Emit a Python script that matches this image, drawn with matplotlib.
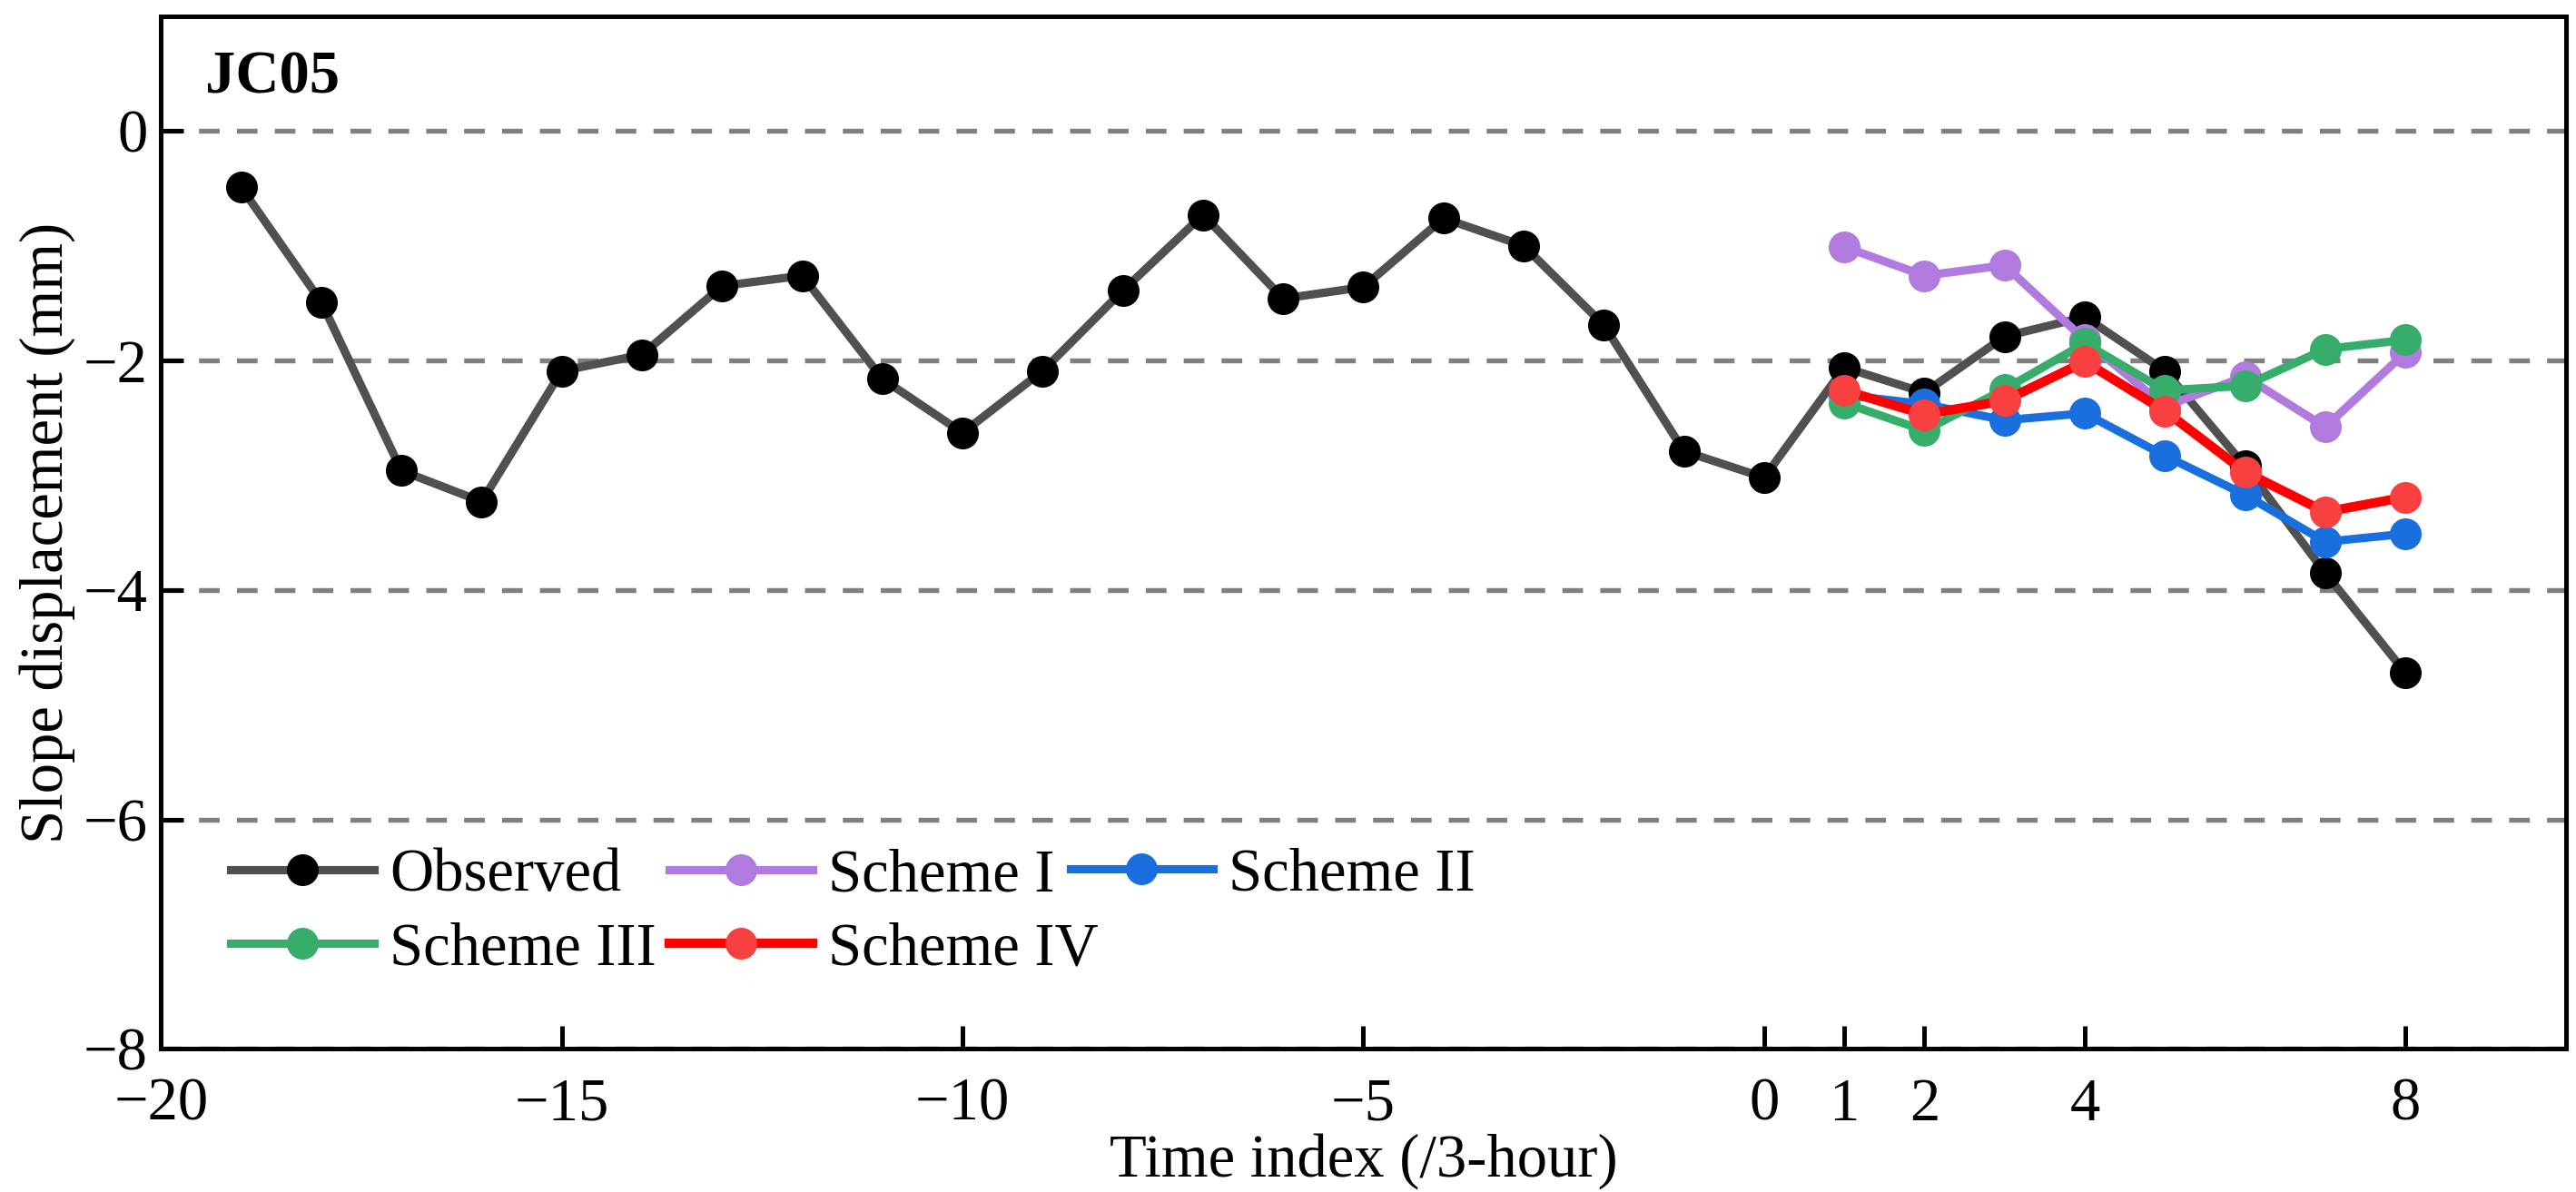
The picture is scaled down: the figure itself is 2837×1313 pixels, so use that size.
import matplotlib
matplotlib.use("Agg")
import matplotlib.pyplot as plt

plt.rcParams['font.family'] = ['Liberation Serif', 'DejaVu Serif']
plt.rcParams['mathtext.fontset'] = 'stix'

# observed series, time index -19 .. 8
obs_x = list(range(-19, 9))
obs_y = [-0.49, -1.49, -2.96, -3.23, -2.09, -1.95, -1.35, -1.26, -2.16,
         -2.63, -2.09, -1.39, -0.73, -1.46, -1.36, -0.76, -1.00, -1.69,
         -2.79, -3.02, -2.06, -2.28, -1.79, -1.62, -2.09, -2.92, -3.85, -4.72]

# forecasts, time index 1 .. 8
fc_x = [1, 2, 3, 4, 5, 6, 7, 8]
scheme1 = [-1.01, -1.26, -1.17, -1.82, -2.40, -2.14, -2.58, -1.93]
scheme2 = [-2.30, -2.38, -2.52, -2.46, -2.83, -3.17, -3.58, -3.51]
scheme3 = [-2.37, -2.61, -2.25, -1.85, -2.26, -2.22, -1.90, -1.82]
scheme4 = [-2.26, -2.47, -2.35, -2.01, -2.44, -2.97, -3.32, -3.19]

xticks = [-20, -15, -10, -5, 0, 1, 2, 4, 8]
yticks = [0, -2, -4, -6, -8]

fig = plt.figure(figsize=(2837 / 300, 1313 / 300), dpi=300)
ax = fig.add_axes([0.0625, 0.12, 0.9335, 0.8663])

ms = 7.4
l0, = ax.plot(obs_x, obs_y, color='#505050', lw=2.2, marker='o', ms=ms,
              mfc='black', mec='black', label='Observed', zorder=3)
l1, = ax.plot(fc_x, scheme1, color='#b07ade', lw=2.2, marker='o', ms=ms,
              label='Scheme I', zorder=4)
l2, = ax.plot(fc_x, scheme2, color='#1a6fdf', lw=2.2, marker='o', ms=ms,
              label='Scheme II', zorder=5)
l3, = ax.plot(fc_x, scheme3, color='#37ad6b', lw=2.2, marker='o', ms=ms,
              label='Scheme III', zorder=6)
l4, = ax.plot(fc_x, scheme4, color='#ff0000', lw=2.5, marker='o', ms=ms,
              mfc='#f94040', mec='#f94040', label='Scheme IV', zorder=7)

ax.set_xlim(-20, 10)
ax.set_ylim(-8, 1)
ax.set_xticks(xticks)
ax.set_yticks(yticks)
ax.tick_params(direction='in', labelsize=16, length=6, width=1.2)
ax.tick_params(axis='x', pad=7.5)
ax.yaxis.grid(True, color='#808080', lw=1.3, ls=(0, (4.2, 3.5)))
ax.set_axisbelow(True)
for s in ax.spines.values():
    s.set_linewidth(1.2)

ax.set_xlabel('Time index (/3-hour)', fontsize=16, labelpad=0)
ax.set_ylabel('Slope displacement (mm)', fontsize=16, labelpad=2)
ax.text(0.0185, 0.94, 'JC05', transform=ax.transAxes, fontsize=16,
        fontweight='bold', va='center', ha='left')

# legend: row-wise Observed, I, II / III, IV (third column packed tight)
leg_kw = dict(frameon=False, fontsize=16, handlelength=2.36,
              handletextpad=0.26, columnspacing=0.22, labelspacing=0.3,
              borderaxespad=0, loc='lower left')
handles = [l0, l3, l1, l4]
leg1 = ax.legend(handles=handles, labels=[h.get_label() for h in handles],
                 bbox_to_anchor=(0.019, 0.046), ncol=2, **leg_kw)
ax.add_artist(leg1)
ax.legend(handles=[l2], labels=['Scheme II'],
          bbox_to_anchor=(0.368, 0.118), ncol=1, **leg_kw)

fig.savefig('out.png', dpi=300)
